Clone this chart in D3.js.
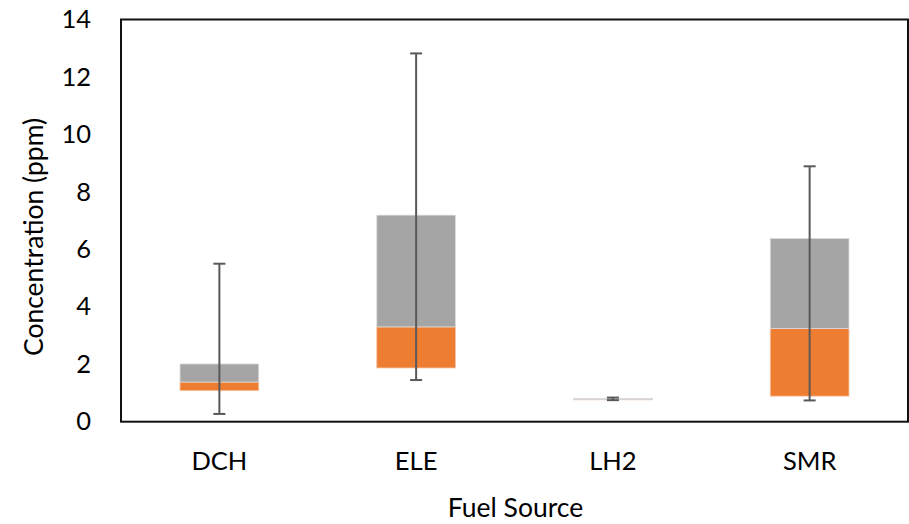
<!DOCTYPE html>
<html><head><meta charset="utf-8">
<script src="https://cdn.jsdelivr.net/npm/d3@7"></script>
<style>body{margin:0;background:#fff}svg{display:block}text{font-family:Lato,"Open Sans",sans-serif;fill:#000}</style>
</head><body>
<svg id="c" width="909" height="524"></svg>
<script>
const categories = ["DCH", "ELE", "LH2", "SMR"];
const minVals    = [0.27, 1.45, 0.75, 0.74];
const q1Vals     = [1.08, 1.87, 0.78, 0.89];
const medianVals = [1.38, 3.30, 0.79, 3.24];
const q3Vals     = [2.01, 7.19, 0.80, 6.38];
const maxVals    = [5.50, 12.82, 0.84, 8.89];
const yTicks = [0, 2, 4, 6, 8, 10, 12, 14];

const svg = d3.select("#c");
const L = 121, R = 908, T = 19.5, B = 421.7;
const x = d3.scaleBand().domain(categories).range([L, R]).paddingInner(0.6).paddingOuter(0.3);
const y = d3.scaleLinear().domain([0, 14]).range([B, T]);

const data = categories.map((c, i) => ({c, min: minVals[i], q1: q1Vals[i], med: medianVals[i], q3: q3Vals[i], max: maxVals[i]}));

const g = svg.append("g");
g.selectAll(".lo").data(data).join("rect")
  .attr("x", d => x(d.c)).attr("width", x.bandwidth())
  .attr("y", d => y(d.med)).attr("height", d => Math.max(0.8, y(d.q1) - y(d.med)))
  .attr("fill", "#ED7D31").attr("stroke", "#f6c4a6").attr("stroke-width", 0.8);
g.selectAll(".hi").data(data).join("rect")
  .attr("x", d => x(d.c)).attr("width", x.bandwidth())
  .attr("y", d => y(d.q3)).attr("height", d => Math.max(0.8, y(d.med) - y(d.q3)))
  .attr("fill", "#A5A5A5").attr("stroke", "#dcdcdc").attr("stroke-width", 0.8);

const cx = d => x(d.c) + x.bandwidth() / 2;
const wc = "#595959";
g.selectAll(".wl").data(data).join("line")
  .attr("x1", cx).attr("x2", cx).attr("y1", d => y(d.min)).attr("y2", d => y(d.max))
  .attr("stroke", wc).attr("stroke-width", 2);
["min", "max"].forEach(k => {
  g.selectAll(".cap" + k).data(data).join("line")
    .attr("x1", d => cx(d) - 6).attr("x2", d => cx(d) + 6)
    .attr("y1", d => y(d[k])).attr("y2", d => y(d[k]))
    .attr("stroke", wc).attr("stroke-width", 2);
});

svg.append("rect").attr("x", L).attr("y", T).attr("width", R - L).attr("height", B - T)
  .attr("fill", "none").attr("stroke", "#111").attr("stroke-width", 2);

const ya = svg.append("g").attr("transform", `translate(${L},0)`)
  .call(d3.axisLeft(y).tickValues(yTicks).tickSize(0).tickPadding(30));
ya.select(".domain").remove();
ya.selectAll("text").style("font-size", "25.5px").style("font-family", "Lato").attr("fill", "#000");

const xa = svg.append("g").attr("transform", `translate(0,${B})`)
  .call(d3.axisBottom(x).tickSize(0).tickPadding(30));
xa.select(".domain").remove();
xa.selectAll("text").style("font-size", "25.5px").style("font-family", "Lato").attr("fill", "#000");

svg.append("text").attr("x", (L + R) / 2 + 1).attr("y", 517).attr("text-anchor", "middle")
  .style("font-size", "26.5px").text("Fuel Source");
svg.append("text").attr("transform", "translate(43,237) rotate(-90)").attr("text-anchor", "middle")
  .style("font-size", "26.5px").text("Concentration (ppm)");
</script>
</body></html>
